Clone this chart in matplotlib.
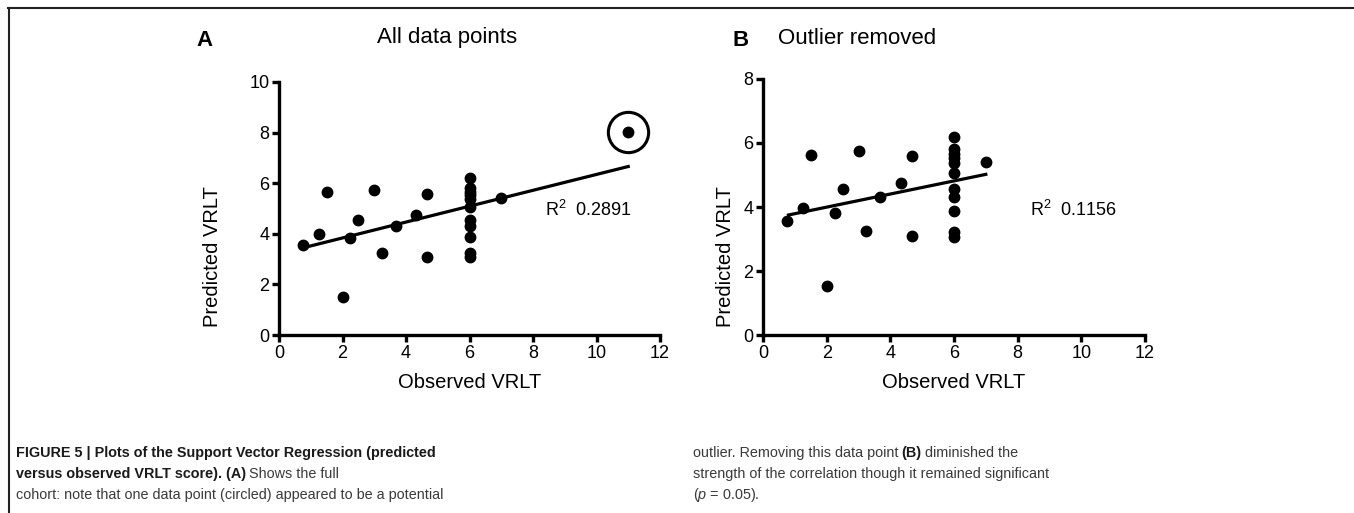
import matplotlib
matplotlib.use("Agg")
import matplotlib.pyplot as plt
from matplotlib import font_manager
from matplotlib.lines import Line2D

# data
obs_b = [0.75, 1.25, 1.5, 2.0, 2.25, 2.5, 3.0, 3.25, 3.67, 4.33, 4.67, 4.67,
         6, 6, 6, 6, 6, 6, 6, 6, 6, 6, 6, 7.0]
pred_b = [3.57, 3.98, 5.64, 1.52, 3.82, 4.55, 5.75, 3.26, 4.31, 4.74, 5.59, 3.08,
          6.2, 5.8, 5.65, 5.52, 5.39, 5.05, 4.55, 4.3, 3.88, 3.23, 3.07, 5.41]
outlier_x, outlier_y = 11.0, 8.02
obs_a = obs_b + [outlier_x]
pred_a = pred_b + [outlier_y]

fit_a_x = [0.77, 11.0]
fit_a_y = [3.45, 6.66]
fit_b_x = [0.8, 7.0]
fit_b_y = [3.75, 5.02]

r2_a = "0.2891"
r2_b = "0.1156"

W, H = 1354, 513
names = {f.name for f in font_manager.fontManager.ttflist}
sans = "Liberation Sans" if "Liberation Sans" in names else "DejaVu Sans"

plt.rcParams["font.family"] = [sans, "DejaVu Sans"]
plt.rcParams["mathtext.fontset"] = "custom"
plt.rcParams["mathtext.rm"] = sans
plt.rcParams["mathtext.it"] = sans + ":italic"

fig = plt.figure(figsize=(W / 100, H / 100), dpi=100)


def fx(px):
    return px / W


def fy(py):
    return 1 - py / H


def panel(x0, x1, ytop, ymax, obs, pred, fx_, fy_, r2, r2pos, letter, title,
          letter_x, title_x, ylabel_x):
    ax = fig.add_axes([fx(x0), fy(335), fx(x1 - x0), fy(ytop) - fy(335)])
    ax.set_xlim(0, 12)
    ax.set_ylim(0, ymax)
    ax.set_xticks(range(0, 13, 2))
    ax.set_yticks(range(0, ymax + 1, 2))
    for s in ["top", "right"]:
        ax.spines[s].set_visible(False)
    for s in ["left", "bottom"]:
        ax.spines[s].set_linewidth(2.4)
    ax.tick_params(width=2.4, length=5, labelsize=13, pad=2)
    ax.plot(obs, pred, "o", color="black", markersize=7.5, clip_on=False)
    ax.plot(fx_, fy_, "-", color="black", linewidth=2.3, clip_on=False)
    ax.text(r2pos[0], r2pos[1], "R$^2$  " + r2, fontsize=13, va="center", ha="left")
    ax.set_xlabel("Observed VRLT", fontsize=14.5, labelpad=8)
    ax.set_ylabel("Predicted VRLT", fontsize=14.5)
    ax.yaxis.set_label_coords(fx(ylabel_x), 0.5, transform=fig.transFigure)
    fig.text(fx(letter_x), fy(40), letter, fontsize=16, fontweight="bold",
             ha="center", va="center")
    fig.text(fx(title_x), fy(38), title, fontsize=16, ha="center", va="center")
    return ax


ax_a = panel(279, 660, 82, 10, obs_a, pred_a, fit_a_x, fit_a_y, r2_a, (8.38, 4.94),
             "A", "All data points", 205, 447, 222)
ax_a.plot([outlier_x], [outlier_y], "o", markerfacecolor="none",
          markeredgecolor="black", markersize=29, markeredgewidth=2.2, clip_on=False)

ax_b = panel(763, 1145, 79, 8, obs_b, pred_b, fit_b_x, fit_b_y, r2_b, (8.39, 3.9),
             "B", "Outlier removed", 741, 857, 735)

# frame lines of the page
fig.add_artist(Line2D([fx(8), 1], [fy(8), fy(8)], color="#222222", linewidth=1.5))
fig.add_artist(Line2D([fx(9), fx(9)], [fy(8), 0], color="#222222", linewidth=1.5))

# caption, pieces placed one after another
renderer = fig.canvas.get_renderer()


def rich(x, y, parts, size=10.4):
    for s, style in parts:
        kw = dict(fontsize=size, va="center", ha="left")
        if style == "b":
            kw.update(fontweight="bold", color="#1a1a1a")
        else:
            kw.update(color="#3a3a3a")
        t = fig.text(fx(x), fy(y), s, **kw)
        bb = t.get_window_extent(renderer)
        x = bb.x1 + 3.2


rich(16, 453, [("FIGURE 5 | Plots of the Support Vector Regression (predicted", "b")])
rich(16, 474, [("versus observed VRLT score). (A)", "b"), ("Shows the full", "r")])
rich(16, 495, [("cohort: note that one data point (circled) appeared to be a potential", "r")])
rich(693, 453, [("outlier. Removing this data point", "r"), ("(B)", "b"),
                ("diminished the", "r")])
rich(693, 474, [("strength of the correlation though it remained significant", "r")])
rich(693, 495, [("($p$ = 0.05).", "r")])

fig.savefig("out.png", dpi=100)
